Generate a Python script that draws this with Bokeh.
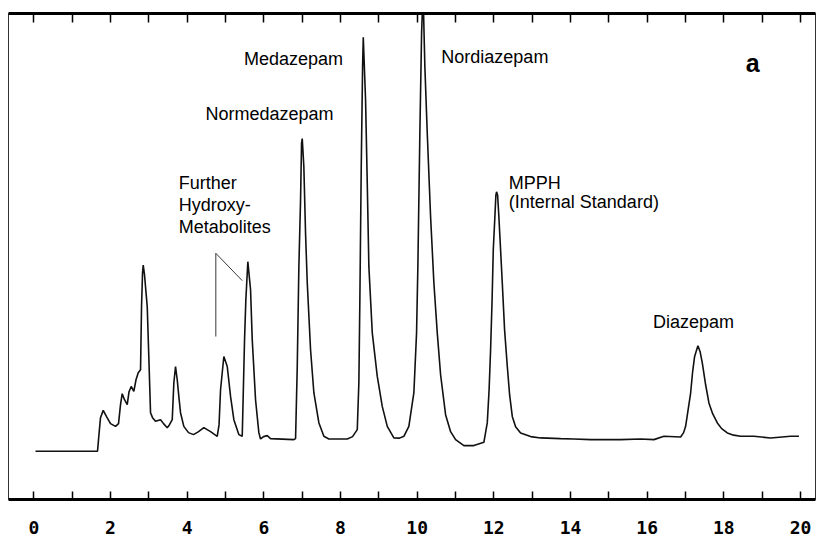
from bokeh.plotting import figure
from bokeh.models import FixedTicker, LinearAxis, Label, Range1d
from bokeh.embed import file_html
from bokeh.resources import INLINE

# Chromatogram trace: retention time (min) and detector response (arbitrary units)
time_min = [
    0.044, 1.662, 1.688, 1.740, 1.811, 1.897, 2.001, 2.131, 2.210, 2.262,
    2.306, 2.366, 2.437, 2.484, 2.541, 2.609, 2.666, 2.724, 2.784, 2.810,
    2.836, 2.854, 2.888, 2.959, 3.000, 3.045, 3.097, 3.175, 3.306, 3.384,
    3.480, 3.540, 3.611, 3.653, 3.697, 3.741, 3.783, 3.827, 3.913, 4.036,
    4.166, 4.297, 4.435, 4.610, 4.785, 4.832, 4.871, 4.957, 5.046, 5.132,
    5.218, 5.348, 5.437, 5.497, 5.531, 5.583, 5.654, 5.698, 5.784, 5.870,
    5.914, 5.993, 6.089, 6.175, 6.783, 6.828, 6.872, 6.914, 6.958, 6.984,
    7.002, 7.044, 7.088, 7.133, 7.219, 7.305, 7.435, 7.566, 7.696, 8.176,
    8.315, 8.437, 8.479, 8.505, 8.541, 8.576, 8.594, 8.654, 8.698, 8.740,
    8.829, 8.959, 9.089, 9.220, 9.392, 9.541, 9.653, 9.783, 9.914, 9.984,
    10.018, 10.070, 10.115, 10.133, 10.167, 10.201, 10.263, 10.350, 10.436, 10.524,
    10.611, 10.741, 10.872, 11.002, 11.218, 11.479, 11.740, 11.829, 11.876, 11.915,
    11.954, 11.985, 12.027, 12.053, 12.071, 12.098, 12.131, 12.176, 12.220, 12.280,
    12.351, 12.411, 12.481, 12.567, 12.698, 12.959, 13.219, 13.741, 14.088, 14.524,
    14.960, 15.307, 15.828, 16.175, 16.436, 16.872, 16.950, 17.002, 17.068, 17.133,
    17.185, 17.237, 17.323, 17.381, 17.438, 17.524, 17.610, 17.707, 17.830, 17.942,
    18.090, 18.254, 18.437, 18.784, 19.220, 19.742, 19.958,
]
signal = [
    9.92, 9.92, 12.32, 16.84, 18.34, 17.04, 15.61, 15.05, 15.61, 19.51,
    21.77, 20.53, 19.51, 22.18, 23.26, 22.24, 24.64, 26.08, 26.69, 39.63,
    46.61, 48.25, 46.20, 39.63, 29.36, 17.86, 16.84, 16.08, 16.43, 15.61,
    14.78, 15.40, 16.43, 24.02, 27.37, 24.64, 21.21, 17.86, 15.05, 13.76,
    13.35, 13.96, 14.78, 13.96, 13.00, 15.40, 22.59, 29.43, 27.37, 21.21,
    16.43, 13.35, 13.00, 32.85, 41.07, 48.93, 43.12, 32.85, 20.53, 13.76,
    12.46, 12.94, 13.14, 12.53, 12.32, 12.53, 27.37, 47.91, 61.60, 73.31,
    74.27, 68.44, 54.83, 44.56, 30.80, 21.97, 15.81, 13.00, 12.46, 12.46,
    12.94, 14.37, 24.02, 41.07, 68.44, 88.97, 95.13, 82.14, 65.09, 47.91,
    34.29, 25.32, 19.16, 15.05, 12.67, 12.63, 13.00, 15.05, 21.97, 34.29,
    47.91, 75.36, 95.89, 100.0, 100.0, 88.97, 75.36, 58.17, 44.56, 34.29,
    25.67, 17.45, 13.96, 12.32, 11.09, 11.09, 11.77, 15.81, 22.59, 30.80,
    41.07, 51.33, 58.17, 62.63, 63.31, 62.63, 58.17, 51.33, 44.56, 34.91,
    27.37, 21.56, 17.10, 14.99, 13.70, 12.94, 12.67, 12.53, 12.46, 12.32,
    12.32, 12.32, 12.46, 12.32, 13.00, 12.87, 13.76, 15.05, 18.48, 21.91,
    26.28, 29.43, 31.62, 30.39, 28.07, 23.61, 19.86, 17.66, 15.75, 14.58,
    13.70, 13.24, 13.00, 13.00, 12.67, 13.00, 13.00,
]

# Time axis: a tick every minute, labelled every two minutes
tick_values = list(range(0, 21))
tick_labels = {t: (str(t) if t % 2 == 0 else "") for t in tick_values}

# Bracket pointing at the two hydroxy-metabolite peaks
pointer_t = [4.748, 4.748, 5.437]
pointer_s = [33.53, 50.66, 45.03]

p = figure(
    width=817, height=536,
    x_range=Range1d(-0.66, 20.39), y_range=Range1d(0, 100),
    output_backend="svg", toolbar_location=None,
    x_axis_location=None, y_axis_location=None,
    min_border_left=8, min_border_right=2, min_border_top=13, min_border_bottom=36,
    background_fill_color="white", border_fill_color="white",
)
p.grid.grid_line_color = None
p.outline_line_color = "#333333"
p.outline_line_width = 1

bottom = LinearAxis(
    ticker=FixedTicker(ticks=tick_values),
    major_label_overrides=tick_labels,
    major_tick_in=8, major_tick_out=0,
    minor_tick_in=0, minor_tick_out=0,
    axis_line_width=3, axis_line_color="black",
    major_tick_line_width=1.5, major_tick_line_color="black",
    major_label_text_font="DejaVu Sans Mono",
    major_label_text_font_style="bold",
    major_label_text_font_size="18px",
    major_label_text_color="black",
    major_label_standoff=21,
)
p.add_layout(bottom, "below")

top = LinearAxis(
    ticker=FixedTicker(ticks=tick_values),
    major_label_overrides={t: "" for t in tick_values},
    major_label_text_font_size="0px",
    major_label_standoff=0,
    major_tick_in=9, major_tick_out=0,
    minor_tick_in=0, minor_tick_out=0,
    axis_line_width=3, axis_line_color="black",
    major_tick_line_width=1.5, major_tick_line_color="black",
)
p.add_layout(top, "above")

p.line(time_min, signal, line_color="#111111", line_width=1.6)
p.line(pointer_t, pointer_s, line_color="#222222", line_width=0.9)

label_style = dict(text_font="Liberation Sans", text_font_size="18px",
                   text_color="black", text_align="left", text_baseline="middle")
annotations = [
    ("Medazepam", 5.48, 90.70),
    ("Nordiazepam", 10.63, 91.03),
    ("Normedazepam", 4.48, 79.40),
    ("Further", 3.78, 65.03),
    ("Hydroxy-", 3.78, 60.57),
    ("Metabolites", 3.78, 56.12),
    ("MPPH", 12.39, 65.03),
    ("(Internal Standard)", 12.39, 61.25),
    ("Diazepam", 16.15, 36.61),
]
for txt, x, y in annotations:
    p.add_layout(Label(x=x, y=y, text=txt, **label_style))

p.add_layout(Label(x=18.57, y=89.73, text="a", text_font="Liberation Sans",
                   text_font_style="bold", text_font_size="25px", text_color="black",
                   text_align="left", text_baseline="middle"))

open("out.html", "w").write(file_html(p, INLINE))
